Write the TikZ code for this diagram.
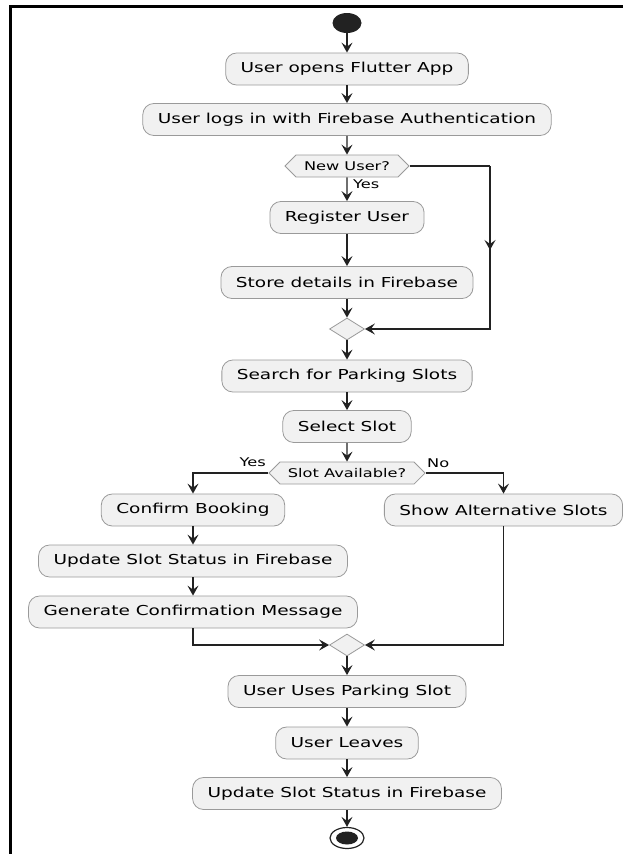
\documentclass[tikz,border=0pt]{standalone}
\usepackage{xcolor}
\usepackage{fontspec}
\setmainfont{DejaVu Sans}[FakeStretch=1.35]
\usetikzlibrary{shapes.geometric,shapes.symbols,arrows.meta}

\definecolor{actfill}{HTML}{F1F1F1}
\definecolor{actline}{HTML}{9A9A9A}
\definecolor{flowline}{HTML}{222222}

\begin{document}
\begin{tikzpicture}[x=1pt,y=1pt,
  act/.style={draw=actline, fill=actfill, rounded corners=11pt, line width=0.8pt,
    minimum height=32pt, inner xsep=15pt, font=\fontsize{13.7}{16}\selectfont},
  choice/.style={draw=actline, fill=actfill, shape=signal, signal to=east and west,
    signal pointer angle=90, minimum height=22pt, inner xsep=8pt, inner ysep=0pt,
    line width=0.8pt, font=\fontsize{12}{14}\selectfont},
  merge/.style={draw=actline, fill=actfill, diamond, minimum width=35pt,
    minimum height=22pt, inner sep=0pt, line width=0.8pt},
  flow/.style={draw=flowline, line width=1.4pt, -{Stealth[length=10pt,width=11pt,inset=4pt]}},
  wire/.style={draw=flowline, line width=1.4pt},
  lbl/.style={font=\fontsize{12}{14}\selectfont, inner sep=1pt}]

          \useasboundingbox (0,0) rectangle (623,-854);
          \draw[line width=3pt] (10,-854) -- (10,-6) -- (623,-6);

          % main column
          \node[ellipse, fill=flowline, minimum width=29pt, minimum height=20pt, inner sep=0pt] (start) at (347,-23) {};
          \node[act] (open) at (347,-69) {User opens Flutter App};
          \node[act] (login) at (347,-119.5) {User logs in with Firebase Authentication};
          \node[choice] (newuser) at (347,-166) {New User?};
          \node[act] (register) at (347,-217.5) {Register User};
          \node[act] (store) at (347,-282.5) {Store details in Firebase};
          \node[merge] (merge1) at (347,-329) {};
          \node[act] (search) at (347,-376) {Search for Parking Slots};
          \node[act] (select) at (347,-426.5) {Select Slot};
          \node[choice] (avail) at (347,-473) {Slot Available?};

          % branches
          \node[act] (confirm) at (193,-510) {Confirm Booking};
          \node[act] (showalt) at (503.5,-510) {Show Alternative Slots};
          \node[act] (update1) at (193,-561) {Update Slot Status in Firebase};
          \node[act] (message) at (193,-612) {Generate Confirmation Message};
          \node[merge] (merge2) at (347,-645) {};

          \node[act] (uses) at (347,-691.5) {User Uses Parking Slot};
          \node[act] (leaves) at (347,-743) {User Leaves};
          \node[act] (update2) at (347,-793.5) {Update Slot Status in Firebase};
          \node[ellipse, draw=flowline, line width=1.2pt, fill=white, minimum width=34pt, minimum height=21pt, inner sep=0pt] (stop) at (347,-838) {};
          \node[ellipse, fill=flowline, minimum width=22pt, minimum height=13pt, inner sep=0pt] (stopdot) at (stop) {};

          \node[lbl, anchor=west] (yes1) at (352,-184) {Yes};
          \node[lbl, anchor=east] (yes2) at (267,-462) {Yes};
          \node[lbl, anchor=west] (no2) at (426,-463) {No};

          \draw[flow] (start) -- (open);
          \draw[flow] (open) -- (login);
          \draw[flow] (login) -- (newuser);
          \draw[flow] (newuser) -- (register);
          \draw[flow] (register) -- (store);
          \draw[flow] (store) -- (merge1);

          \coordinate (nbend) at (490,-166);
          \coordinate (nlow) at (490,-329);
          \draw[wire] (newuser.east) -- (nbend);
          \draw[flow] (nbend) -- (490,-250);
          \draw[flow] (490,-245) -- (nlow) -- (merge1.east);

          \draw[flow] (merge1) -- (search);
          \draw[flow] (search) -- (select);
          \draw[flow] (select) -- (avail);
          \draw[flow] (avail.west) -| (confirm.north);
          \draw[flow] (avail.east) -| (showalt.north);
          \draw[flow] (confirm) -- (update1);
          \draw[flow] (update1) -- (message);
          \draw[flow] (message.south) |- (merge2.west);
          \draw[flow] (showalt.south) |- (merge2.east);
          \draw[flow] (merge2) -- (uses);
          \draw[flow] (uses) -- (leaves);
          \draw[flow] (leaves) -- (update2);
          \draw[flow] (update2) -- (stop);

          \end{tikzpicture}
\end{document}
